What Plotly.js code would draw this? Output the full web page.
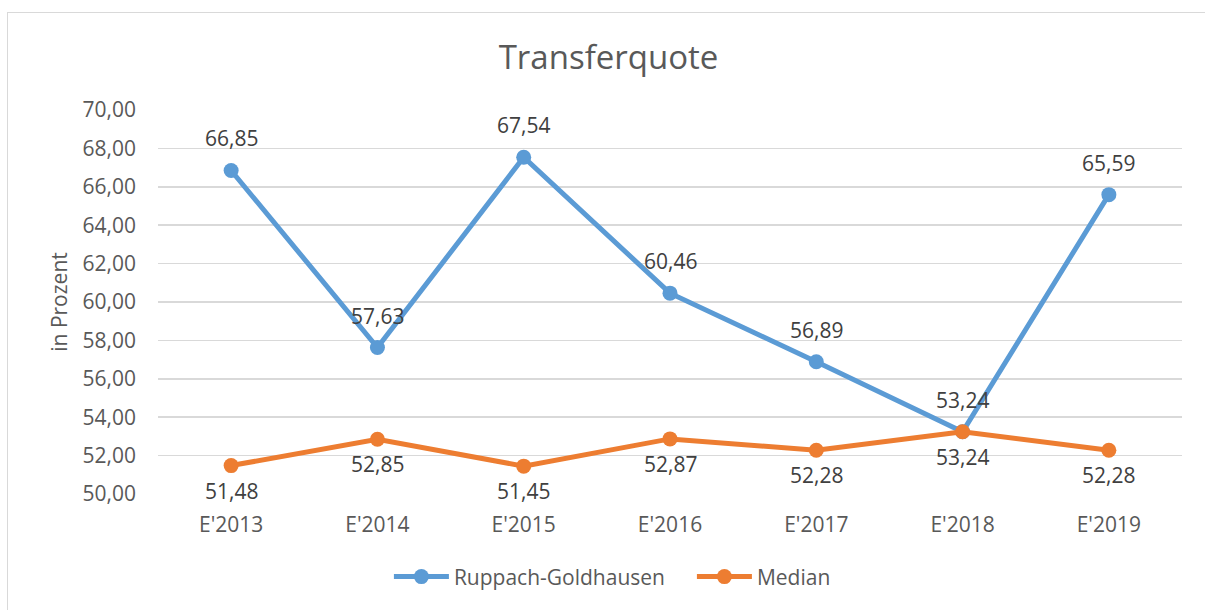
<!DOCTYPE html>
<html>
<head>
<meta charset="utf-8">
<script src="https://cdn.plot.ly/plotly-3.0.1.min.js"></script>
<style>
  html, body { margin: 0; padding: 0; background: #fff; overflow: hidden; }
  #frame { position: absolute; left: 7px; top: 12px; width: 1220px; height: 620px; border: 1px solid #d9d9d9; box-sizing: border-box; }
  #chart { position: absolute; left: 0; top: 0; width: 1205px; height: 610px; }
</style>
</head>
<body>
<div id="frame"></div>
<div id="chart"></div>
<script>
const categories = ["E'2013", "E'2014", "E'2015", "E'2016", "E'2017", "E'2018", "E'2019"];
const ruppach = [66.85, 57.63, 67.54, 60.46, 56.89, 53.24, 65.59];
const median = [51.48, 52.85, 51.45, 52.87, 52.28, 53.24, 52.28];
const yTickValues = [50, 52, 54, 56, 58, 60, 62, 64, 66, 68, 70];

const FONT = "Open Sans, sans-serif";
const TXT = "#595959";
const FS = 21;
const fmt = v => v.toFixed(2).replace('.', ',');

const traces = [
  {
    x: categories, y: ruppach, name: "Ruppach-Goldhausen",
    type: "scatter", mode: "lines+markers",
    line: { color: "#5B9BD5", width: 5 },
    marker: { color: "#5B9BD5", size: 15 },
    hoverinfo: "none"
  },
  {
    x: categories, y: median, name: "Median",
    type: "scatter", mode: "lines+markers",
    line: { color: "#ED7D31", width: 5 },
    marker: { color: "#ED7D31", size: 15 },
    hoverinfo: "none"
  }
];

const annotations = [];
categories.forEach((c, i) => {
  annotations.push({ x: c, y: ruppach[i], xref: "x", yref: "y", text: fmt(ruppach[i]),
    showarrow: false, yshift: 32, yanchor: "middle", font: { family: FONT, size: FS, color: "#404040" } });
  annotations.push({ x: c, y: median[i], xref: "x", yref: "y", text: fmt(median[i]),
    showarrow: false, yshift: -25, yanchor: "middle", font: { family: FONT, size: FS, color: "#404040" } });
});

const layout = {
  width: 1205, height: 610,
  paper_bgcolor: "rgba(0,0,0,0)", plot_bgcolor: "rgba(0,0,0,0)",
  margin: { l: 158, r: 23, t: 110, b: 116 },
  separators: ",.",
  font: { family: FONT, color: TXT, size: FS },
  title: { text: "Transferquote", font: { family: FONT, size: 33, color: TXT },
    xref: "container", x: 0.505, yref: "container", y: 0.906, xanchor: "center", yanchor: "middle" },
  xaxis: {
    type: "category", range: [-0.5, 6.5], showgrid: false, zeroline: false,
    showline: false, ticks: "", ticklabelstandoff: 16,
    tickfont: { family: FONT, size: FS, color: TXT }, fixedrange: true
  },
  yaxis: {
    range: [50, 70], tickvals: yTickValues, ticktext: yTickValues.map(fmt),
    showgrid: true, gridcolor: "#d9d9d9", gridwidth: 1.5, zeroline: false, showline: false,
    ticks: "", ticklabelstandoff: 21,
    tickfont: { family: FONT, size: FS, color: TXT },
    title: { text: "in Prozent", font: { family: FONT, size: FS, color: TXT }, standoff: 9 },
    fixedrange: true
  },
  showlegend: true,
  legend: { orientation: "h", x: 0.2255, xanchor: "left", y: -0.216, yanchor: "middle",
    font: { family: FONT, size: FS, color: TXT }, itemwidth: 55, entrywidth: 233,
    bgcolor: "rgba(0,0,0,0)" },
  annotations: annotations
};

Plotly.newPlot("chart", traces, layout, { displayModeBar: false, staticPlot: true });
</script>
</body>
</html>
